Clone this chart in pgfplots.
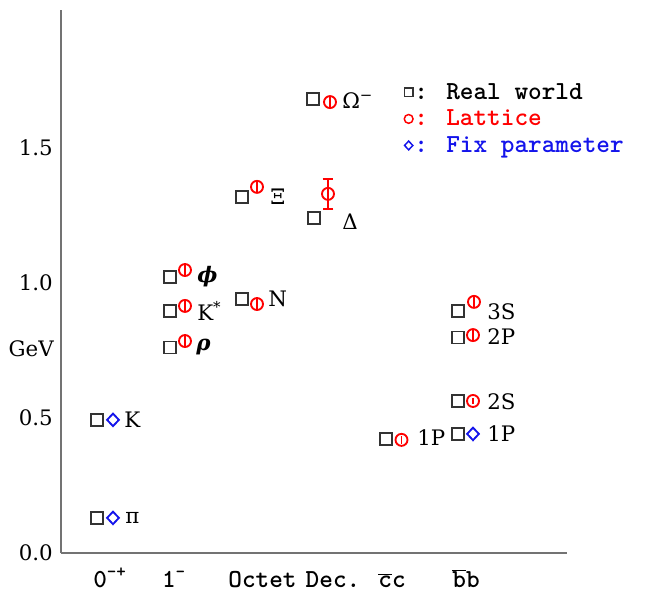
\documentclass[border=0pt]{standalone}
\usepackage{pgfplots}
\pgfplotsset{compat=1.18}
\usepackage{fontspec}
\setmainfont{DejaVu Serif}
\newfontfamily\mono{lmmonolt10-bold.otf}
\newcommand\lab{\fontsize{16}{19}\selectfont}
\newcommand\mlab{\mono\fontsize{19.5}{22}\selectfont}
\definecolor{axgray}{RGB}{115,115,115}
\definecolor{lat}{RGB}{255,0,0}
\definecolor{fix}{RGB}{20,20,235}

% positions: x in pixel units of the original figure, y in GeV
\pgfplotstableread{
x   y
97  0.493
97  0.130
170 1.022
170 0.896
170 0.761
242 0.941
242 1.319
313 1.681
314 1.241
386 0.422
458 0.896
458 0.798
458 0.563
458 0.441
}\realworld

\pgfplotstableread{
x     y     e
185   1.048 0.022
185   0.915 0.022
185   0.785 0.022
257   0.922 0.022
257   1.356 0.022
330   1.670 0.020
401.5 0.419 0.015
474   0.930 0.022
473   0.807 0.020
473   0.563 0.010
}\lattice

\pgfplotstableread{
x   y     e
328 1.330 0.055
}\latticedelta

\pgfplotstableread{
x   y
113 0.493
113 0.130
473 0.441
}\fixpar

\begin{document}
\begin{tikzpicture}
\path[use as bounding box] (-45.75pt,-29.25pt) rectangle (438pt,414.75pt);
\begin{axis}[
    scale only axis,
    width=379.5pt,
    height=407.25pt,
    xmin=61, xmax=567,
    ymin=0, ymax=2.011,
    axis x line*=bottom,
    axis y line*=left,
    axis line style={axgray, line width=1.5pt},
    major tick length=0pt,
    xtick={110,174,262.5,333,392,466},
    xticklabels={0\textsuperscript{-+}, 1\textsuperscript{-}, Octet, Dec., \(\overline{\hbox{c}}\)c, \(\overline{\hbox{b}}\)b},
    xticklabel style={font=\mlab, anchor=base, yshift=-26pt},
    ytick={0,0.5,1,1.5},
    yticklabels={0.0,0.5,1.0,1.5},
    yticklabel style={font=\lab, anchor=east, inner sep=0pt, xshift=-6pt},
    clip=false,
    legend cell align=left,
    legend image code/.code={\draw[#1] plot coordinates {(0pt,0pt)};},
    legend image post style={mark size=3.3pt, line width=1.1pt},
    legend style={at={(axis cs:404,1.745)}, anchor=north west, draw=none, fill=none,
        font=\mlab, row sep=4.5pt, column sep=1pt, inner sep=0pt,
        nodes={inner xsep=0pt, inner ysep=1pt}},
]
\addplot[only marks, mark=square, mark size=4.5pt, draw=black!80, line width=1.4pt]
    table[x=x, y=y] {\realworld};
\addlegendentry{: Real world}

\addplot[only marks, mark=o, mark size=4.5pt, color=lat, line width=1.4pt,
    error bars/y dir=both, error bars/y explicit, error bars/error mark=none,
    error bars/error bar style={line width=1.3pt}]
    table[x=x, y=y, y error=e] {\lattice};
\addlegendentry{\color{lat}: Lattice}

\addplot[only marks, mark=diamond, mark size=4.7pt, color=fix, line width=1.4pt,
    mark options={xscale=1.25}]
    table[x=x, y=y] {\fixpar};
\addlegendentry{\color{fix}: Fix parameter}

\addplot[forget plot, only marks, mark=o, mark size=4.5pt, color=lat, line width=1.4pt,
    error bars/y dir=both, error bars/y explicit,
    error bars/error bar style={line width=1.3pt},
    error bars/error mark options={rotate=90, mark size=4pt, line width=1.3pt}]
    table[x=x, y=y, y error=e] {\latticedelta};

\node[anchor=east, inner sep=0pt, font=\lab] at (axis cs:54,0.756) {GeV};

\begin{scope}[every node/.style={anchor=west, inner sep=0pt, font=\lab}]
\node at (axis cs:124,0.493) {K};
\node at (axis cs:125,0.130) {π};
\node at (axis cs:197,1.022) {\bfseries\itshape ϕ};
\node at (axis cs:197,0.896) {K\textsuperscript{*}};
\node at (axis cs:196,0.761) {\bfseries\itshape ρ};
\node at (axis cs:268,0.940) {N};
\node at (axis cs:270,1.319) {Ξ};
\node at (axis cs:342,1.676) {Ω\textsuperscript{−}};
\node at (axis cs:342,1.228) {Δ};
\node at (axis cs:417,0.428) {1P};
\node at (axis cs:487,0.893) {3S};
\node at (axis cs:487,0.800) {2P};
\node at (axis cs:487,0.560) {2S};
\node at (axis cs:487,0.444) {1P};
\end{scope}
\end{axis}
\end{tikzpicture}
\end{document}
